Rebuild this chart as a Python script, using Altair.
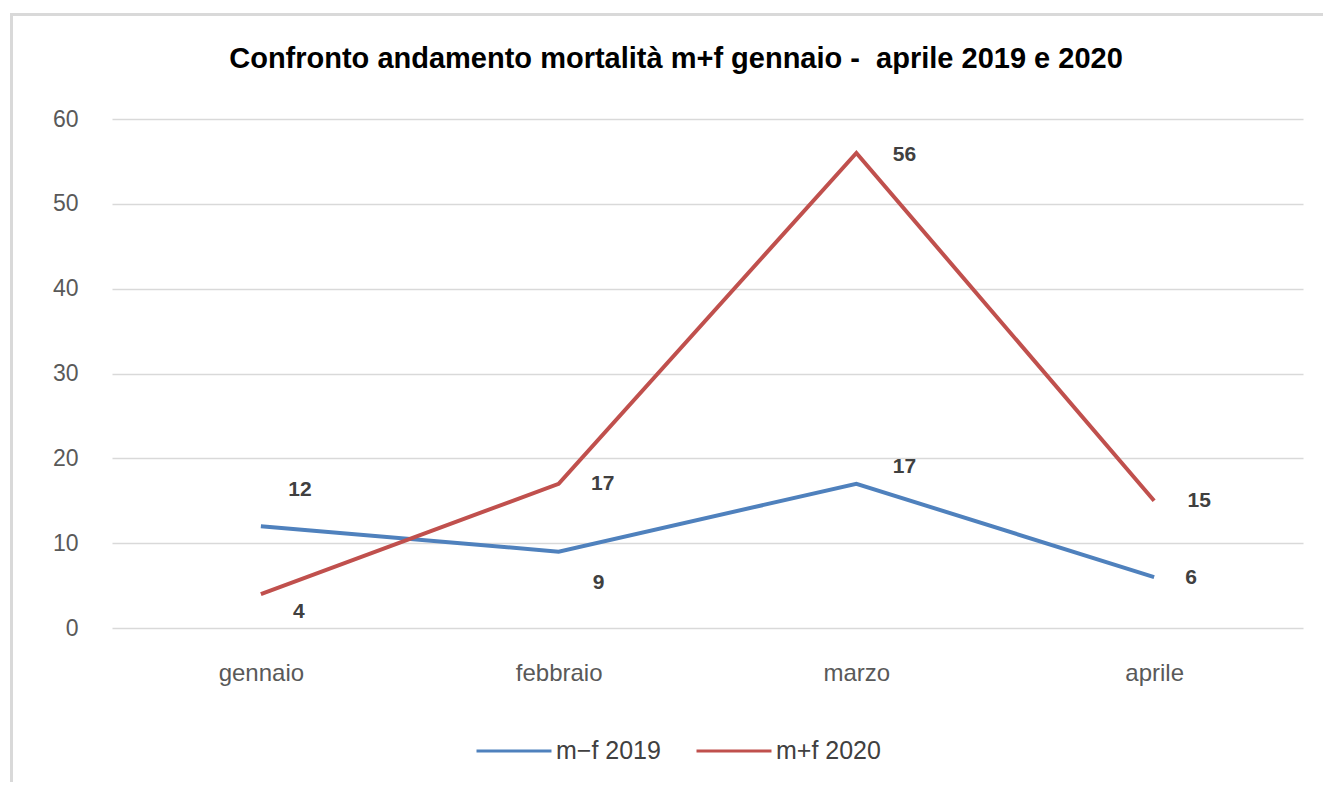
import altair as alt
import pandas as pd

months = ["gennaio", "febbraio", "marzo", "aprile"]
series_names = ["m−f 2019", "m+f 2020"]
values_2019 = [12, 9, 17, 6]
values_2020 = [4, 17, 56, 15]
colors = ["#4F81BD", "#C0504D"]
title_text = "Confronto andamento mortalità m+f gennaio -\u00a0 aprile 2019 e 2020"

rows = []
for m, v in zip(months, values_2019):
    rows.append({"mese": m, "serie": series_names[0], "valore": v})
for m, v in zip(months, values_2020):
    rows.append({"mese": m, "serie": series_names[1], "valore": v})
df = pd.DataFrame(rows)

# label placement (style only): (series, month) -> (dx, dy)
placement = {
    (series_names[0], "gennaio"): (39, -36),
    (series_names[0], "febbraio"): (40, 31),
    (series_names[0], "marzo"): (48, -17),
    (series_names[0], "aprile"): (37, 1),
    (series_names[1], "gennaio"): (38, 18),
    (series_names[1], "febbraio"): (44, 0),
    (series_names[1], "marzo"): (48, 2),
    (series_names[1], "aprile"): (45, 0),
}

W, H = 1191, 509
FONT = "Liberation Sans"

x_enc = alt.X("mese:N", sort=months,
              scale=alt.Scale(type="point", padding=0.5),
              axis=alt.Axis(title=None, labelAngle=0, domain=False, ticks=False,
                            labelPadding=33, labelFontSize=24, labelColor="#595959",
                            labelFont=FONT, grid=False))
y_enc = alt.Y("valore:Q", scale=alt.Scale(domain=[0, 60]),
              axis=alt.Axis(title=None, values=[0, 10, 20, 30, 40, 50, 60],
                            domain=False, ticks=False, labelPadding=34,
                            labelFontSize=23, labelColor="#595959", labelFont=FONT,
                            grid=True, gridColor="#d9d9d9", gridWidth=1.5))

base = alt.Chart(df)

frame = alt.Chart(pd.DataFrame({"a": [0]})).mark_rect(
    fill=None, stroke="#d9d9d9", strokeWidth=3, clip=False
).encode(x=alt.value(-100.5), x2=alt.value(1240), y=alt.value(-104.5), y2=alt.value(700))

title = alt.Chart(pd.DataFrame({"t": [title_text]})).mark_text(
    fontSize=29, fontWeight="bold", font=FONT, color="#000000",
    align="center", baseline="alphabetic", clip=False
).encode(x=alt.value(564), y=alt.value(-51), text="t:N")

lines = base.mark_line(strokeWidth=4).encode(
    x=x_enc, y=y_enc,
    color=alt.Color("serie:N", sort=series_names,
                    scale=alt.Scale(domain=series_names, range=colors),
                    legend=alt.Legend(title=None, orient="none", direction="horizontal",
                                      legendX=363, legendY=593,
                                      symbolType="stroke", symbolSize=5625,
                                      symbolStrokeWidth=3, labelFontSize=25,
                                      labelColor="#404040", labelFont=FONT,
                                      labelOffset=3, columnPadding=29)),
)

layers = [frame, title, lines]
for (s, m), (dx, dy) in placement.items():
    layers.append(
        base.transform_filter(
            (alt.datum.serie == s) & (alt.datum.mese == m)
        ).mark_text(fontWeight="bold", fontSize=21, color="#404040", font=FONT,
                    dx=dx, dy=dy).encode(
            x=alt.X("mese:N", sort=months, scale=alt.Scale(type="point", padding=0.5)),
            y=alt.Y("valore:Q", scale=alt.Scale(domain=[0, 60])),
            text="valore:Q")
    )

chart = alt.layer(*layers).properties(
    width=W, height=H,
    autosize=alt.AutoSizeParams(type="none"),
    padding={"left": 104, "top": 111, "right": 20, "bottom": 154},
).configure(background="white").configure_view(stroke=None)

chart.save("out.html", embed_options={"renderer": "svg", "actions": False})
